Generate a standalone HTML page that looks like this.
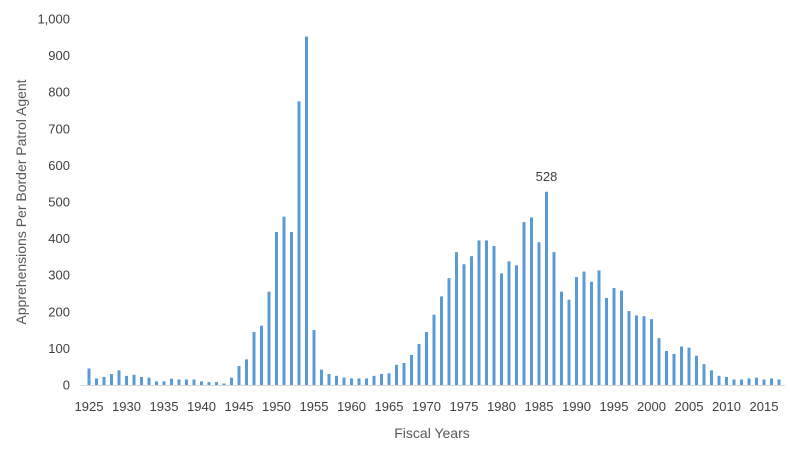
<!DOCTYPE html>
<html><head><meta charset="utf-8"><style>
body{margin:0;background:#fff;font-family:"Liberation Sans",sans-serif}
text{font-family:"Liberation Sans",sans-serif;fill:#595959}
</style></head><body>
<svg width="790" height="447">
<g id="y-axis"></g>
<g id="bars"></g>
<g id="x-axis"></g>
<text transform="translate(26,202) rotate(-90)" text-anchor="middle" font-size="14">Apprehensions Per Border Patrol Agent</text>
<text x="432" y="438" text-anchor="middle" font-size="14">Fiscal Years</text>
</svg>
<script>
const years=[];for(let y=1925;y<=2017;y++)years.push(y);
const values=[45,18,22,30,40,25,28,22,20,10,10,17,15,15,15,10,8,8,4,20,52,70,145,162,255,418,460,418,775,952,150,42,30,25,20,18,18,18,25,30,32,55,60,82,112,145,192,242,292,363,330,352,395,395,380,305,338,327,445,458,390,528,363,255,233,295,310,282,313,238,265,258,202,190,188,180,128,93,85,105,102,80,57,40,25,22,15,15,18,20,15,18,15];
const yTicks=[0,100,200,300,400,500,600,700,800,900,1000];
const yTickLabels=["0","100","200","300","400","500","600","700","800","900","1,000"];
const xTickYears=[1925,1930,1935,1940,1945,1950,1955,1960,1965,1970,1975,1980,1985,1990,1995,2000,2005,2010,2015];
const annotatedYear=1986;
const NS="http://www.w3.org/2000/svg";
const y0=385,y1=19;
function ys(v){return y0-(y0-y1)*v/1000;}
function xs(yr){return 89+(yr-1925)*7.5;}
function mk(tag,attrs,parent,txt){const e=document.createElementNS(NS,tag);for(const k in attrs)e.setAttribute(k,attrs[k]);if(txt!==undefined)e.textContent=txt;parent.appendChild(e);return e;}
const ya=document.getElementById('y-axis'),ba=document.getElementById('bars'),xa=document.getElementById('x-axis');
yTicks.forEach((t,i)=>{const e=mk('text',{x:70,y:ys(t)+4.5,'text-anchor':'end','font-size':13,style:'fill:#404040'},ya,yTickLabels[i]);

});
const ax=mk('line',{x1:80,x2:785,y1:y0+0.5,y2:y0+0.5,stroke:'#d9d9d9'},xa);


years.forEach((yr,i)=>{const v=values[i];const b=mk('rect',{x:xs(yr)-1.5,y:ys(v),width:3,height:y0-ys(v),fill:'#5b9bd5'},ba);


if(yr===annotatedYear){const l=mk('text',{x:xs(yr),y:ys(v)-11,'text-anchor':'middle','font-size':13,style:'fill:#404040'},ba,String(v));

}});
xTickYears.forEach(yr=>{const e=mk('text',{x:xs(yr),y:411,'text-anchor':'middle','font-size':13,style:'fill:#404040'},xa,String(yr));

});
</script>
</body></html>
